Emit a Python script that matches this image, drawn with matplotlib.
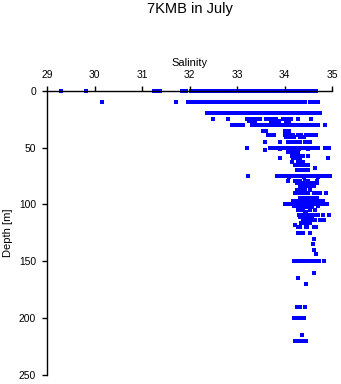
import matplotlib
matplotlib.use("Agg")
import matplotlib.pyplot as plt

# dense sampling rows (salinity values read along each depth)
row_0m = [29.30, 29.82, 31.25, 31.30, 31.38,
          31.84, 31.88, 31.93, 32.02, 32.06, 32.11, 32.15, 32.20, 32.24, 32.29,
          32.33, 32.38, 32.42, 32.47, 32.51, 32.56, 32.60, 32.65, 32.69, 32.74,
          32.78, 32.83, 32.87, 32.92, 32.96, 33.01, 33.05, 33.10, 33.14, 33.19,
          33.23, 33.28, 33.32, 33.37, 33.41, 33.46, 33.50, 33.55, 33.59, 33.64,
          33.68, 33.73, 33.77, 33.82, 33.86, 33.91, 33.95, 34.00, 34.04, 34.09,
          34.13, 34.18, 34.22, 34.27, 34.31, 34.36, 34.40, 34.45, 34.49, 34.58,
          34.62, 34.66]
row_10m = [30.16, 31.71, 31.96, 32.00, 32.10,
           32.17, 32.21, 32.26, 32.30, 32.35, 32.39, 32.44, 32.48, 32.53, 32.57,
           32.62, 32.66, 32.71, 32.75, 32.80, 32.84, 32.89, 32.93, 32.98, 33.02,
           33.07, 33.11, 33.16, 33.20, 33.25, 33.29, 33.34, 33.38, 33.43, 33.47,
           33.52, 33.56, 33.61, 33.65, 33.70, 33.74, 33.79, 33.83, 33.88, 33.92,
           33.97, 34.01, 34.06, 34.10, 34.15, 34.19, 34.24, 34.28, 34.33, 34.37,
           34.43, 34.54, 34.58, 34.65, 34.70]
row_20m = [32.37, 32.42, 32.47, 32.51, 32.56, 32.60, 32.65, 32.69, 32.74,
           32.78, 32.83, 32.87, 32.92, 32.96, 33.01, 33.05, 33.10, 33.14, 33.19,
           33.23, 33.28, 33.32, 33.37, 33.41, 33.46, 33.50, 33.55, 33.59, 33.64,
           33.68, 33.73, 33.77, 33.82, 33.86, 33.91, 33.95, 34.00, 34.04, 34.09,
           34.13, 34.18, 34.22, 34.27, 34.31, 34.36, 34.40, 34.45, 34.49, 34.54,
           34.58, 34.63, 34.67, 34.72, 34.75]
row_30m = [32.89, 32.95, 33.02, 33.08, 33.13,
           33.31, 33.35, 33.40, 33.44, 33.49, 33.53, 33.58, 33.62, 33.67, 33.71,
           33.76, 33.80, 33.85, 33.89, 33.94, 33.98, 34.03, 34.07, 34.12, 34.16,
           34.21, 34.25, 34.30, 34.34, 34.40, 34.45, 34.52, 34.60, 34.66, 34.71,
           34.85]
row_50m = [33.20,
           33.69, 33.73, 33.78, 33.82, 33.87, 33.91, 33.96, 34.00, 34.05, 34.09,
           34.14, 34.18, 34.23, 34.27, 34.32, 34.36, 34.41, 34.45, 34.50, 34.54,
           34.59, 34.63, 34.68, 34.70, 34.85, 34.94]
row_75m = [33.23, 33.84,
           33.88, 33.93, 33.97, 34.02, 34.06, 34.11, 34.15, 34.20, 34.24, 34.29,
           34.33, 34.38, 34.42, 34.47, 34.51, 34.56, 34.60, 34.65, 34.69, 34.74,
           34.78, 34.83, 34.87, 34.92, 34.95]
row_100m = [34.01, 34.05, 34.10, 34.14, 34.19, 34.23, 34.28, 34.32, 34.37,
            34.41, 34.46, 34.50, 34.55, 34.59, 34.64, 34.68, 34.73, 34.77, 34.82,
            34.86, 34.89]
row_150m = [34.19, 34.26, 34.31, 34.36, 34.40, 34.45, 34.49, 34.54, 34.58,
            34.63, 34.68, 34.73, 34.83]

# scattered samples, depth [m] -> salinities
scattered = {
    25: [32.50, 32.81, 33.20, 33.25, 33.30, 33.35, 33.42, 33.48, 33.60, 33.65,
         33.70, 33.76, 33.82, 33.97, 34.02, 34.08, 34.14, 34.28, 34.56],
    27: [33.25, 33.32, 33.38, 33.72, 33.80, 33.88, 34.02, 34.10],
    35: [33.55, 33.60, 34.00, 34.05, 34.10],
    39: [33.65, 33.70, 33.78, 34.00, 34.06, 34.12, 34.18, 34.28, 34.35, 34.45,
         34.52, 34.58, 34.65],
    41: [34.02, 34.10, 34.15, 34.20, 34.32, 34.40],
    45: [33.59, 33.91, 34.07, 34.12, 34.17, 34.22, 34.28, 34.32, 34.43, 34.48,
         34.54],
    51: [33.90, 34.10, 34.30, 34.50],
    52: [33.59],
    54: [34.07, 34.12, 34.18, 34.22, 34.28],
    57: [34.16, 34.22, 34.28, 34.34, 34.39, 34.50],
    59: [33.91, 34.18, 34.25, 34.33, 34.92],
    63: [34.16, 34.28, 34.34, 34.39],
    65: [34.22, 34.28, 34.33, 34.39, 34.45, 34.50],
    68: [34.64],
    70: [34.26, 34.33, 34.39, 34.45, 34.50],
    76: [34.10, 34.40, 34.70],
    79: [34.07, 34.22, 34.28, 34.33, 34.43, 34.50, 34.68],
    81: [34.26, 34.32, 34.38, 34.44, 34.50, 34.56, 34.61, 34.68],
    84: [34.33, 34.39, 34.45, 34.50, 34.56, 34.61],
    87: [34.26, 34.32, 34.38, 34.43, 34.54],
    90: [34.22, 34.28, 34.33, 34.39, 34.45, 34.50, 34.61, 34.66, 34.71, 34.75,
         34.88],
    94: [34.33, 34.39, 34.45, 34.50, 34.56, 34.61, 34.68],
    97: [34.18, 34.24, 34.30, 34.36, 34.42, 34.48, 34.54, 34.60, 34.66, 34.72,
         34.80],
    101: [34.20, 34.45, 34.70],
    102: [34.28, 34.35, 34.42, 34.50, 34.58],
    105: [34.28, 34.32, 34.38, 34.54, 34.64],
    107: [34.42, 34.46],
    109: [34.30, 34.36, 34.42, 34.48, 34.54, 34.60, 34.66, 34.71, 34.80, 34.94],
    111: [34.33, 34.40, 34.46, 34.52, 34.58],
    114: [34.38, 34.44, 34.50, 34.56, 34.64, 34.75, 34.82],
    116: [34.35, 34.42, 34.48, 34.54],
    118: [34.22],
    120: [34.28, 34.33, 34.44, 34.48, 34.61, 34.65],
    125: [34.28, 34.33, 34.38, 34.54],
    130: [34.61],
    135: [34.59],
    140: [34.61],
    144: [34.65],
    160: [34.61],
    165: [34.29],
    170: [34.44],
    190: [34.26, 34.33, 34.42],
    200: [34.20, 34.25, 34.30, 34.35, 34.40],
    215: [34.36],
    220: [34.22, 34.31, 34.36, 34.41, 34.45],
}

dense_rows = [(0, row_0m), (10, row_10m), (20, row_20m), (30, row_30m),
              (50, row_50m), (75, row_75m), (100, row_100m), (150, row_150m)]

plt.rcParams['font.family'] = ['Liberation Sans', 'DejaVu Sans']

fig = plt.figure(figsize=(3.41, 3.84), dpi=100)
ax = fig.add_axes([0.138, 0.0234, 0.836, 0.7404])

sal = []
dep = []
for d, vals in dense_rows:
    sal += vals
    dep += [d] * len(vals)
for d, vals in scattered.items():
    sal += vals
    dep += [d] * len(vals)

ax.scatter(sal, dep, s=5, marker='s', color='#0000ff', linewidths=0, clip_on=False)

ax.set_xlim(29, 35)
ax.set_ylim(250, 0)
ax.set_xticks([29, 30, 31, 32, 33, 34, 35])
ax.set_yticks([0, 50, 100, 150, 200, 250])

ax.xaxis.tick_top()
ax.xaxis.set_label_position('top')
ax.spines['bottom'].set_visible(False)
ax.spines['right'].set_visible(False)
ax.spines['top'].set_linewidth(1.0)
ax.spines['left'].set_linewidth(1.0)
ax.tick_params(axis='both', direction='out', length=3.3, width=1.0,
               labelsize=7.4, pad=4.5)

ax.set_xlabel('Salinity', fontsize=8, labelpad=3)
ax.set_ylabel('Depth [m]', fontsize=8, labelpad=4)

fig.text(189.5 / 341, 1 - 2.0 / 384, '7KMB in July', ha='center', va='top',
         fontsize=10.5)

fig.savefig('out.png', dpi=100)
